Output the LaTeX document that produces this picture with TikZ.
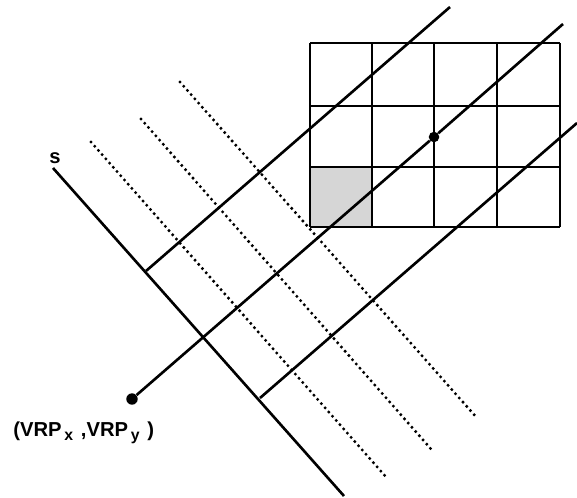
\documentclass[tikz,border=0pt]{standalone}
\usepackage{xcolor}
\usepackage{fontspec}
\setmainfont{Liberation Sans}
\usepackage{tikz}
\usetikzlibrary{positioning}
\definecolor{cellgray}{HTML}{D6D6D6}

\tikzset{
  solidline/.style={line width=1.5pt},
  dotline/.style={line width=1.9pt, line cap=round, dash pattern=on 0pt off 3.2pt},
  spot/.style={circle, fill=black, inner sep=0pt, minimum size=#1},
}

\begin{document}
\begin{tikzpicture}[x=0.02cm, y=-0.02cm, line join=round,
                    font=\fontsize{11.5}{13}\selectfont\bfseries]
  \useasboundingbox (0,0) rectangle (577,497);

  \fill[cellgray] (310,167) rectangle (372,227);
  \foreach \gx in {310,372,434,497,560}
    \draw[solidline] (\gx,43) -- (\gx,227);
  \foreach \gy in {43,106,167,227}
    \draw[solidline] (310,\gy) -- (560,\gy);

  \coordinate (stop) at (53,168);
  \coordinate (sbot) at (344,496);
  \coordinate (foot1) at (146,271);
  \coordinate (foot3) at (260,398);
  \coordinate (ray1end) at (450,7);
  \coordinate (ray2end) at (563,24);
  \coordinate (ray3end) at (577,123);
  \coordinate (dot1a) at (91,142);  \coordinate (dot1b) at (386,477);
  \coordinate (dot2a) at (141,119); \coordinate (dot2b) at (431,449);
  \coordinate (dot3a) at (180,82);  \coordinate (dot3b) at (477,418);

  \node[spot=6.5pt] (vrp) at (132,399) {};
  \node[spot=6pt] (center) at (434,137) {};

  \draw[solidline] (stop) -- (sbot);
  \draw[solidline] (foot1) -- (ray1end);
  \draw[solidline] (vrp) -- (center) -- (ray2end);
  \draw[solidline] (foot3) -- (ray3end);

  \foreach \k in {1,2,3}
    \draw[dotline] (dot\k a) -- (dot\k b);

  \node[inner sep=0pt] (slabel) at (55,158) {s};
  \node[anchor=base west, inner sep=0pt] (vrplabel) at (13,436)
    {(VRP\hspace{1.5pt}\raisebox{-2.7pt}{\small x}\hspace{4.5pt},VRP\hspace{1.5pt}\raisebox{-2.7pt}{\small y}\hspace{4.5pt})};
\end{tikzpicture}
\end{document}
